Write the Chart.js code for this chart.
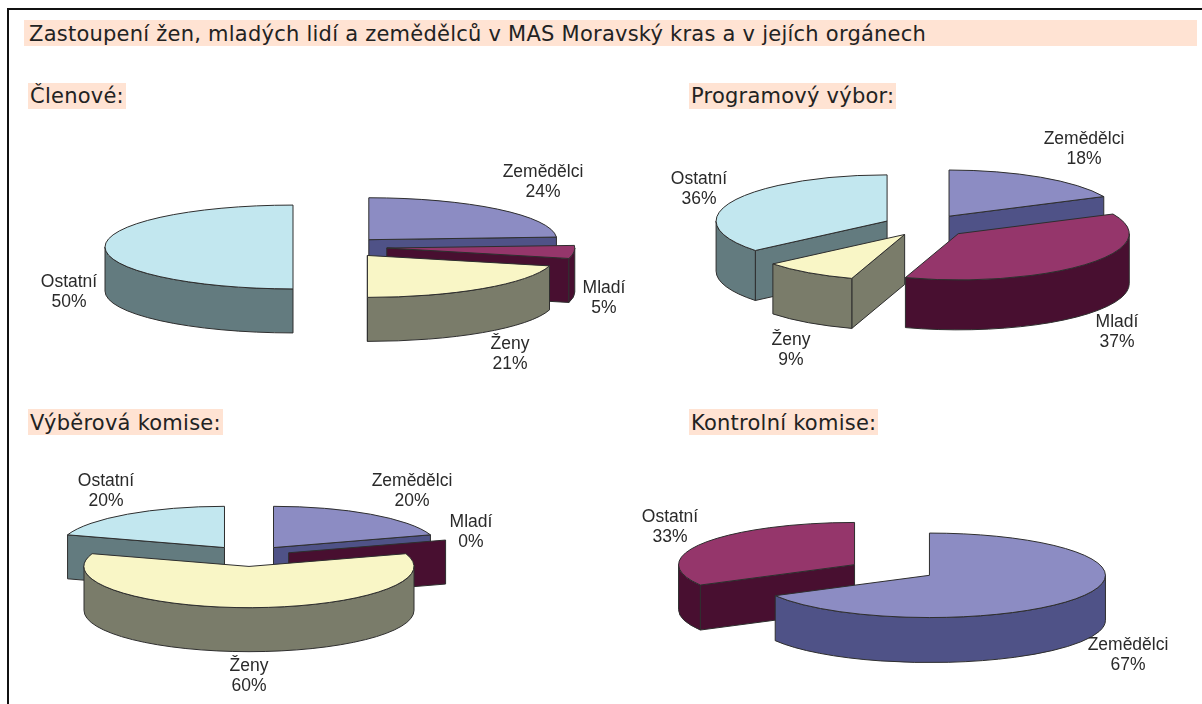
<!DOCTYPE html>
<html lang="cs">
<head>
<meta charset="utf-8">
<title>Zastoupení žen, mladých lidí a zemědělců</title>
<script src="https://cdn.jsdelivr.net/npm/chart.js@4/dist/chart.umd.min.js"></script>
<style>
html,body{margin:0;padding:0;background:#fff;}
body{width:1202px;height:704px;position:relative;overflow:hidden;}
#frame{position:absolute;left:7px;top:8px;width:1195px;height:696px;border-left:2px solid #111;border-top:2px solid #111;box-sizing:border-box;}
.head{position:absolute;background:#ffe3d3;color:#222;font-family:"DejaVu Sans",sans-serif;font-size:21px;letter-spacing:.24px;line-height:26px;height:26px;white-space:nowrap;}
canvas{position:absolute;}
</style>
</head>
<body>
<div id="frame"></div>
<div class="head" style="left:24px;top:20px;width:1173px;padding-left:5px;box-sizing:border-box;line-height:29px">Zastoupení žen, mladých lidí a zemědělců v MAS Moravský kras a v jejích orgánech</div>
<div class="head" style="left:28px;top:83px;padding:0 2px">Členové:</div>
<div class="head" style="left:689px;top:83px;padding:0 2px">Programový výbor:</div>
<div class="head" style="left:28px;top:409px;padding:0 2px;line-height:29px">Výběrová komise:</div>
<div class="head" style="left:689px;top:409px;padding:0 2px;line-height:29px">Kontrolní komise:</div>
<canvas id="c1" style="left:38px;top:97px"></canvas>
<canvas id="c2" style="left:626px;top:76px"></canvas>
<canvas id="c3" style="left:-51px;top:407px"></canvas>
<canvas id="c4" style="left:592px;top:430px"></canvas>
<script>
// data, percent per group
const categories = ["Zemědělci", "Mladí", "Ženy", "Ostatní"];
const clenove = [24, 5, 21, 50];
const programovy = [18, 37, 9, 36];
const vyberova = [20, 0, 60, 20];
const kontrolniCategories = ["Zemědělci", "Ostatní"];
const kontrolni = [67, 33];

const TOP = {"Zemědělci":"#8c8cc3","Mladí":"#95366b","Ženy":"#f9f6c6","Ostatní":"#c2e7ef"};
const SIDE = {"Zemědělci":"#4f5287","Mladí":"#480f30","Ženy":"#7a7c6a","Ostatní":"#637b7f"};
const EDGE = "#2e2e2e";

// fake 3D: squash each arc from chart.js and extrude it downwards
const pie3d = {
  id: "pie3d",
  beforeDatasetsDraw(chart, args, o) {
    const ctx = chart.ctx, meta = chart.getDatasetMeta(0);
    const items = meta.data.map((arc, i) => {
      const p = arc.getProps(["x","y","startAngle","endAngle","outerRadius"], true);
      const mid = (p.startAngle + p.endAngle) / 2;
      return {arc, p, i,
        cx: p.x + Math.cos(mid) * o.explode[i],
        cy: p.y + Math.sin(mid) * o.explode[i] * o.tilt};
    }).sort((a, b) => a.cy - b.cy);
    ctx.save();
    ctx.lineWidth = 1;
    ctx.strokeStyle = EDGE;
    ctx.lineJoin = "round";
    for (const it of items) {
      const {p, cx, cy} = it, R = p.outerRadius, r = R * o.tilt, d = o.depth;
      const side = o.sideColors[it.i];
      const pt = a => [cx + R * Math.cos(a), cy + r * Math.sin(a)];
      const face = a => {
        const e = pt(a);
        ctx.beginPath();
        ctx.moveTo(cx, cy); ctx.lineTo(e[0], e[1]);
        ctx.lineTo(e[0], e[1] + d); ctx.lineTo(cx, cy + d);
        ctx.closePath();
        ctx.fillStyle = side; ctx.fill(); ctx.stroke();
      };
      // cut faces, only those turned to the viewer
      if (Math.cos(p.startAngle) < 0) face(p.startAngle);
      if (Math.cos(p.endAngle) > 0) face(p.endAngle);
      // outer wall, front half only
      const s = Math.max(p.startAngle, 0), e = Math.min(p.endAngle, Math.PI);
      if (e > s) {
        ctx.beginPath();
        ctx.ellipse(cx, cy, R, r, 0, s, e);
        ctx.ellipse(cx, cy + d, R, r, 0, e, s, true);
        ctx.closePath();
        ctx.fillStyle = side; ctx.fill(); ctx.stroke();
      }
      // top face: the library's own arc, squashed
      ctx.save();
      ctx.translate(cx, cy);
      ctx.scale(1, o.tilt);
      ctx.translate(-p.x, -p.y);
      it.arc.draw(ctx);
      ctx.restore();
      if (p.endAngle > p.startAngle) {
        ctx.beginPath();
        ctx.moveTo(cx, cy);
        ctx.ellipse(cx, cy, R, r, 0, p.startAngle, p.endAngle);
        ctx.closePath();
        ctx.stroke();
      }
    }
    ctx.restore();
    return false;
  },
  // beforeDatasetsDraw cancels the default pass, so labels go in afterDraw
  afterDraw(chart, args, o) {
    const ctx = chart.ctx, rect = chart.canvas;
    const ox = parseInt(rect.style.left), oy = parseInt(rect.style.top);
    ctx.save();
    ctx.font = '17.5px "Liberation Sans", Arial, sans-serif';
    ctx.fillStyle = "#2a2a2a";
    ctx.textAlign = "center";
    ctx.textBaseline = "middle";
    chart.data.labels.forEach((name, i) => {
      const [x, y] = o.labelAt[i];
      ctx.fillText(name, x - ox, y - oy);
      ctx.fillText(chart.data.datasets[0].data[i] + "%", x - ox, y + 20 - oy);
    });
    ctx.restore();
  }
};

function makePie(id, labels, values, w, h, radius, opts) {
  const c = document.getElementById(id);
  c.width = w; c.height = h;
  c.style.width = w + "px"; c.style.height = h + "px";
  const tops = labels.map(n => TOP[n]), sides = labels.map(n => SIDE[n]);
  if (opts.colors) { opts.colors.forEach((n, i) => { tops[i] = TOP[n]; sides[i] = SIDE[n]; }); }
  return new Chart(c, {
    type: "pie",
    data: {labels, datasets: [{data: values, backgroundColor: tops, borderWidth: 0}]},
    plugins: [pie3d],
    options: {
      responsive: false, animation: false, radius,
      layout: {padding: 0},
      events: [],
      plugins: {
        legend: {display: false}, tooltip: {enabled: false},
        pie3d: {explode: opts.explode, tilt: opts.tilt, depth: opts.depth, labelAt: opts.labelAt, sideColors: sides}
      }
    }
  });
}

makePie("c1", categories, clenove, 600, 300, 188, {explode: [45,49,48,45], tilt: 0.223, depth: 44,
  labelAt: [[543,172],[604,288],[510,344],[69,282]]});
makePie("c2", categories, programovy, 600, 300, 171, {explode: [43,43,38,43], tilt: 0.27, depth: 50,
  labelAt: [[1084,139],[1117,322],[791,340],[699,179]]});
makePie("c3", categories, vyberova, 600, 298, 165, {explode: [41.7,41.7,41.7,41.7], tilt: 0.25, depth: 44,
  labelAt: [[412,481],[471,522],[249,666],[106,481]]});
makePie("c4", kontrolniCategories, kontrolni, 600, 280, 176, {explode: [43.5,43.5], tilt: 0.24, depth: 45,
  colors: ["Zemědělci", "Mladí"],
  labelAt: [[1128,645],[670,517]]});
</script>
</body>
</html>
